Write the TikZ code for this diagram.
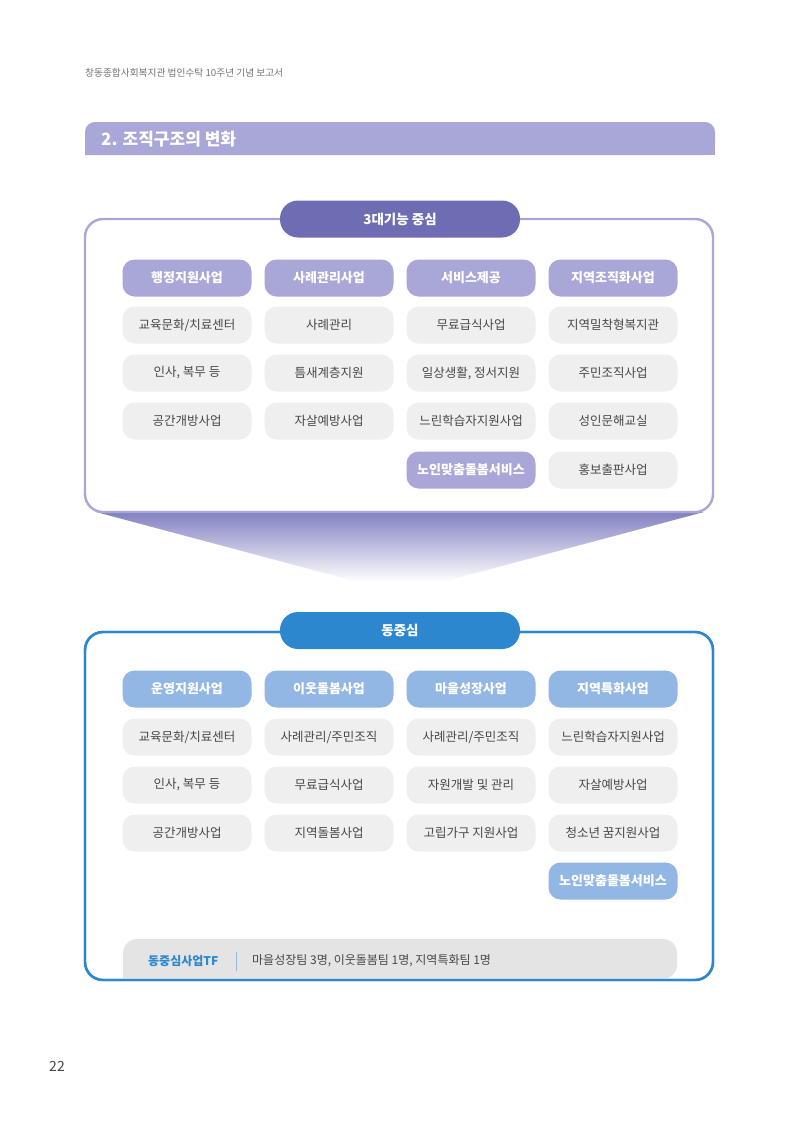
\documentclass[tikz,border=0pt]{standalone}
\usepackage{fontspec}
\setmainfont{Noto Sans CJK KR}
\usetikzlibrary{positioning}
\definecolor{purpA}{HTML}{A9A7D8}
\definecolor{purpB}{HTML}{6E6DB3}
\definecolor{purpF}{HTML}{8281C2}
\definecolor{blueA}{HTML}{2C87CF}
\definecolor{blueL}{HTML}{93B7E5}
\definecolor{itemG}{HTML}{EFEFEF}
\definecolor{txtG}{HTML}{474747}
\definecolor{tfG}{HTML}{E4E4E4}
\tikzset{
  base/.style={rounded corners=12pt, minimum width=129pt, minimum height=37pt, inner sep=0pt, font=\fontsize{12.5}{14}\selectfont},
  item/.style={base, fill=itemG, text=txtG},
  hdrp/.style={base, fill=purpA, text=white, font=\fontsize{13}{15}\selectfont\bfseries},
  hdrb/.style={base, fill=blueL, text=white, font=\fontsize{13}{15}\selectfont\bfseries},
  pill/.style={rounded corners=18pt, minimum width=240pt, minimum height=37pt, inner sep=0pt, text=white, font=\fontsize{13.5}{15}\selectfont\bfseries},
  panel/.style={rounded corners=18pt, line width=2.4pt, fill=white}
}
\begin{document}
\begin{tikzpicture}[x=1pt,y=-1pt]
\useasboundingbox (0,0) rectangle (800,1122);
\fill[white] (0,0) rectangle (800,1122);
% page header
\node[anchor=west, text=gray!90!black, font=\fontsize{9.7}{11}\selectfont, inner sep=0pt] (runhead) at (85,73) {창동종합사회복지관 법인수탁 10주년 기념 보고서};
% title bar
\fill[purpA, rounded corners=10pt] (85,155) -- (85,122) -- (715,122) -- (715,155) [sharp corners] -- cycle;
\fill[purpA] (85,140) rectangle (715,155);
\node[anchor=west, text=white, font=\fontsize{17}{19}\selectfont\bfseries, inner sep=0pt] (title) at (101,139) {2. 조직구조의 변화};
% funnel
\shade[top color=purpF, bottom color=white] (96,512) -- (704,512) -- (442,582) -- (358,582) -- cycle;
% top panel
\draw[panel, draw=purpA] (85,219) rectangle (713,512);
\node[pill, fill=purpB] (top) at (400,219) {3대기능 중심};
% header row
\node[hdrp] (a1) at (187,278) {행정지원사업};
\node[hdrp] (a2) at (329,278) {사례관리사업};
\node[hdrp] (a3) at (471,278) {서비스제공};
\node[hdrp] (a4) at (613,278) {지역조직화사업};
\node[item] (b11) at (187,325) {교육문화/치료센터};
\node[item] (b12) at (329,325) {사례관리};
\node[item] (b13) at (471,325) {무료급식사업};
\node[item] (b14) at (613,325) {지역밀착형복지관};
\node[item] (b21) at (187,373) {인사, 복무 등};
\node[item] (b22) at (329,373) {틈새계층지원};
\node[item] (b23) at (471,373) {일상생활, 정서지원};
\node[item] (b24) at (613,373) {주민조직사업};
\node[item] (b31) at (187,421) {공간개방사업};
\node[item] (b32) at (329,421) {자살예방사업};
\node[item] (b33) at (471,421) {느린학습자지원사업};
\node[item] (b34) at (613,421) {성인문해교실};
\node[hdrp] (b43) at (471,470) {노인맞춤돌봄서비스};
\node[item] (b44) at (613,470) {홍보출판사업};
% bottom panel
\draw[panel, draw=blueA] (85,632) rectangle (713,980);
\fill[tfG, rounded corners=14pt] (123,979) -- (123,939) -- (677,939) -- (677,979) [sharp corners] -- cycle;
\draw[panel, draw=blueA, fill=none] (85,632) rectangle (713,980);
\node[pill, fill=blueA] (bot) at (400,630.5) {동중심};
\node[hdrb] (c1) at (187,689) {운영지원사업};
\node[hdrb] (c2) at (329,689) {이웃돌봄사업};
\node[hdrb] (c3) at (471,689) {마을성장사업};
\node[hdrb] (c4) at (613,689) {지역특화사업};
\node[item] (d11) at (187,737) {교육문화/치료센터};
\node[item] (d12) at (329,737) {사례관리/주민조직};
\node[item] (d13) at (471,737) {사례관리/주민조직};
\node[item] (d14) at (613,737) {느린학습자지원사업};
\node[item] (d21) at (187,785) {인사, 복무 등};
\node[item] (d22) at (329,785) {무료급식사업};
\node[item] (d23) at (471,785) {자원개발 및 관리};
\node[item] (d24) at (613,785) {자살예방사업};
\node[item] (d31) at (187,833) {공간개방사업};
\node[item] (d32) at (329,833) {지역돌봄사업};
\node[item] (d33) at (471,833) {고립가구 지원사업};
\node[item] (d34) at (613,833) {청소년 꿈지원사업};
\node[hdrb] (d44) at (613,881) {노인맞춤돌봄서비스};
% TF bar text
\node[anchor=west, text=blueA, font=\fontsize{12}{14}\selectfont\bfseries, inner sep=0pt] (tf) at (148,961) {동중심사업TF};
\coordinate (sepT) at (236,952);
\coordinate (sepB) at (236,971);
\draw[blueL, line width=0.8pt] (sepT) -- (sepB);
\node[anchor=west, text=txtG, font=\fontsize{12}{14}\selectfont, inner sep=0pt] (tfdesc) at (252,961) {마을성장팀 3명, 이웃돌봄팀 1명, 지역특화팀 1명};
% page number
\node[text=txtG, font=\fontsize{14}{16}\selectfont, inner sep=0pt] (pg) at (57,1066) {22};
\end{tikzpicture}
\end{document}
